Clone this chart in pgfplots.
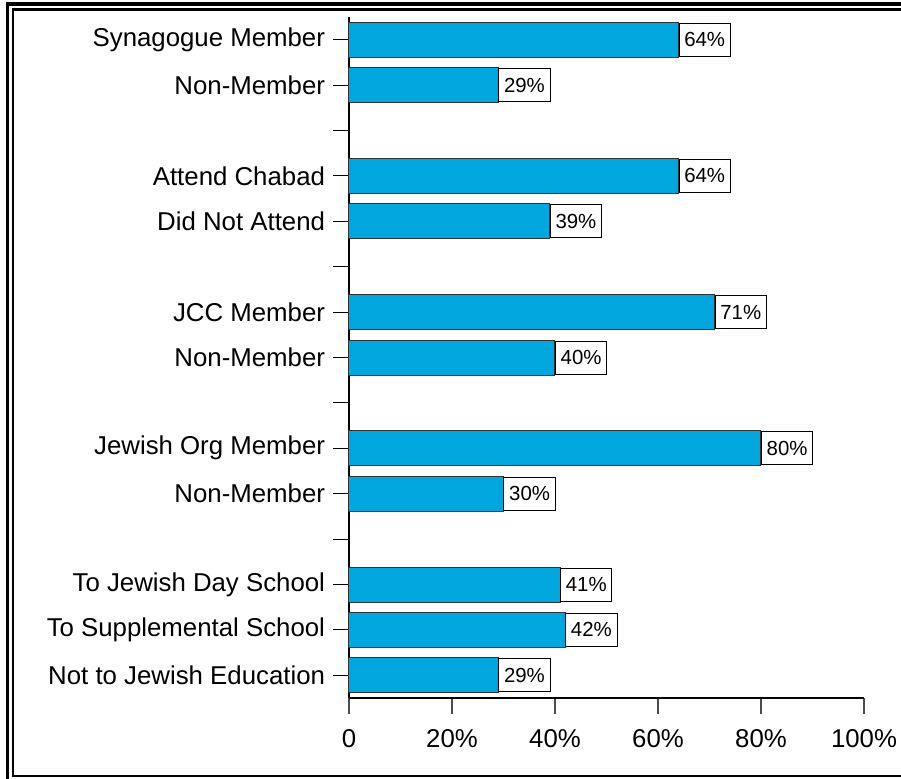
\documentclass[border=0pt]{standalone}
\usepackage{pgfplots}
\pgfplotsset{compat=1.18}
\usepackage{fontspec}
\setmainfont{Liberation Sans}
\definecolor{barblue}{RGB}{0,167,222}
\begin{document}
\begin{tikzpicture}
\useasboundingbox (0pt,0pt) rectangle (450.5pt,-389.5pt);
\draw[line width=1.75pt] (3.75pt,-2pt) rectangle (470pt,-400pt);
\draw[line width=1.1pt] (6.5pt,-4.75pt) rectangle (460pt,-388pt);
\begin{axis}[
  at={(174.5pt,-349pt)}, anchor=south west,
  scale only axis, width=257.5pt, height=340.5pt,
  xbar, bar width=17.5pt,
  xmin=0, xmax=100, ymin=-0.5, ymax=14.5, y dir=reverse,
  axis x line*=bottom, axis y line*=left,
  axis line style={-, line width=0.6pt, black},
  tick align=outside, major tick length=7.8pt,
  xtick={0,20,40,60,80,100},
  xticklabels={0,20\%,40\%,60\%,80\%,100\%},
  ytick={0,...,14},
  yticklabels={Synagogue Member,Non-Member,{},Attend Chabad,Did Not Attend,{},JCC Member,Non-Member,{},Jewish Org Member,Non-Member,{},To Jewish Day School,To Supplemental School,Not to Jewish Education},
  x tick style={line width=0.6pt, black!70},
  y tick style={line width=0.5pt, black},
  tick label style={font=\fontsize{12.9}{15}\selectfont, inner sep=0pt},
  yticklabel style={xshift=-4pt},
  xticklabel style={yshift=-7.5pt},
  /pgf/number format/assume math mode=true,
  point meta=x,
  nodes near coords={\pgfmathprintnumber[assume math mode=true]{\pgfplotspointmeta}\%},
  every node near coord/.append style={draw=black, fill=white, anchor=west,
    font=\fontsize{10.2}{12}\selectfont, inner xsep=2.6pt, inner ysep=0pt,
    minimum height=16.5pt, line width=0.5pt, xshift=0pt},
  clip=false,
]
\addplot[fill=barblue, draw=black!80, line width=0.5pt] coordinates {
(64,0) (29,1) (64,3) (39,4) (71,6) (40,7) (80,9) (30,10) (41,12) (42,13) (29,14)
};
\end{axis}
\end{tikzpicture}
\end{document}
